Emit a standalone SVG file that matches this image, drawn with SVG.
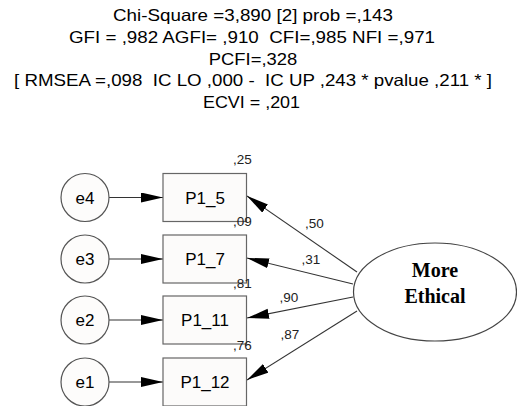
<svg xmlns="http://www.w3.org/2000/svg" width="517" height="406" viewBox="0 0 517 406">
<style>
.hdr{font-family:"Liberation Sans",Arial,sans-serif;font-size:16.5px;fill:#000;text-anchor:middle}
.box{fill:#fcfbfa;stroke:#666;stroke-width:1.2}
.circ{fill:#fdfcfb;stroke:#555;stroke-width:1.2}
.lbl{font-family:"Liberation Sans",Arial,sans-serif;font-size:17px;fill:#000;text-anchor:middle}
.num{font-family:"Liberation Sans",Arial,sans-serif;font-size:13.5px;fill:#222}
.conn line{stroke:#333;stroke-width:1.1;marker-end:url(#ah)}
.lat{font-family:"Liberation Serif","Times New Roman",serif;font-size:20px;font-weight:bold;fill:#000;text-anchor:middle}
</style>
<defs>
<marker id="ah" markerUnits="userSpaceOnUse" markerWidth="23" markerHeight="11" refX="22" refY="5" orient="auto">
<path d="M0,0 L22,5 L0,10 z" fill="#000"/>
</marker>
</defs>
<rect width="517" height="406" fill="#fff"/>
<g id="header">
<text class="hdr" x="253" y="20.5" textLength="280" lengthAdjust="spacingAndGlyphs">Chi-Square =3,890 [2] prob =,143</text>
<text class="hdr" x="252" y="42.5" textLength="366" lengthAdjust="spacingAndGlyphs" xml:space="preserve">GFI = ,982 AGFI= ,910  CFI=,985 NFI =,971</text>
<text class="hdr" x="253" y="64.5" textLength="88.5" lengthAdjust="spacingAndGlyphs">PCFI=,328</text>
<text class="hdr" x="253" y="86" textLength="478" lengthAdjust="spacingAndGlyphs" xml:space="preserve">[ RMSEA =,098  IC LO ,000 -  IC UP ,243 * pvalue ,211 * ]</text>
<text class="hdr" x="251.5" y="107.5" textLength="97" lengthAdjust="spacingAndGlyphs">ECVI = ,201</text>
</g>
<g class="conn" id="connectors">
<line x1="109" y1="197.5" x2="163" y2="197.5"/>
<line x1="109" y1="259" x2="163" y2="259"/>
<line x1="109" y1="320" x2="163" y2="320"/>
<line x1="109" y1="382" x2="163" y2="382"/>
<line x1="357" y1="272" x2="247" y2="196"/>
<line x1="353" y1="284" x2="247" y2="258"/>
<line x1="353" y1="297" x2="247" y2="318"/>
<line x1="357" y1="311" x2="247" y2="380"/>
<text class="num" x="305" y="228">,50</text>
<text class="num" x="301.5" y="264">,31</text>
<text class="num" x="279.5" y="302">,90</text>
<text class="num" x="280.5" y="338.5">,87</text>
</g>
<g id="e4"><circle class="circ" cx="85" cy="197.5" r="24"/><text class="lbl" x="85" y="203.5">e4</text></g>
<g id="e3"><circle class="circ" cx="85" cy="259" r="24"/><text class="lbl" x="85" y="265">e3</text></g>
<g id="e2"><circle class="circ" cx="85" cy="320" r="24"/><text class="lbl" x="85" y="326">e2</text></g>
<g id="e1"><circle class="circ" cx="85" cy="382" r="24"/><text class="lbl" x="85" y="388">e1</text></g>
<g id="P1_5"><rect class="box" x="163" y="173.5" width="83.5" height="48"/><text class="lbl" x="205" y="203.5">P1_5</text><text class="num" x="233" y="164">,25</text></g>
<g id="P1_7"><rect class="box" x="163" y="235" width="83.5" height="48"/><text class="lbl" x="205" y="265">P1_7</text><text class="num" x="233" y="226">,09</text></g>
<g id="P1_11"><rect class="box" x="163" y="296" width="83.5" height="48"/><text class="lbl" x="205" y="326">P1_11</text><text class="num" x="233" y="288">,81</text></g>
<g id="P1_12"><rect class="box" x="163" y="358" width="83.5" height="48"/><text class="lbl" x="205" y="388">P1_12</text><text class="num" x="233" y="350">,76</text></g>
<g id="MoreEthical"><ellipse cx="435" cy="292" rx="81.5" ry="49" fill="#fff" stroke="#444" stroke-width="1.2"/><text class="lat" x="435" y="277">More</text><text class="lat" x="435" y="303">Ethical</text></g>
</svg>
